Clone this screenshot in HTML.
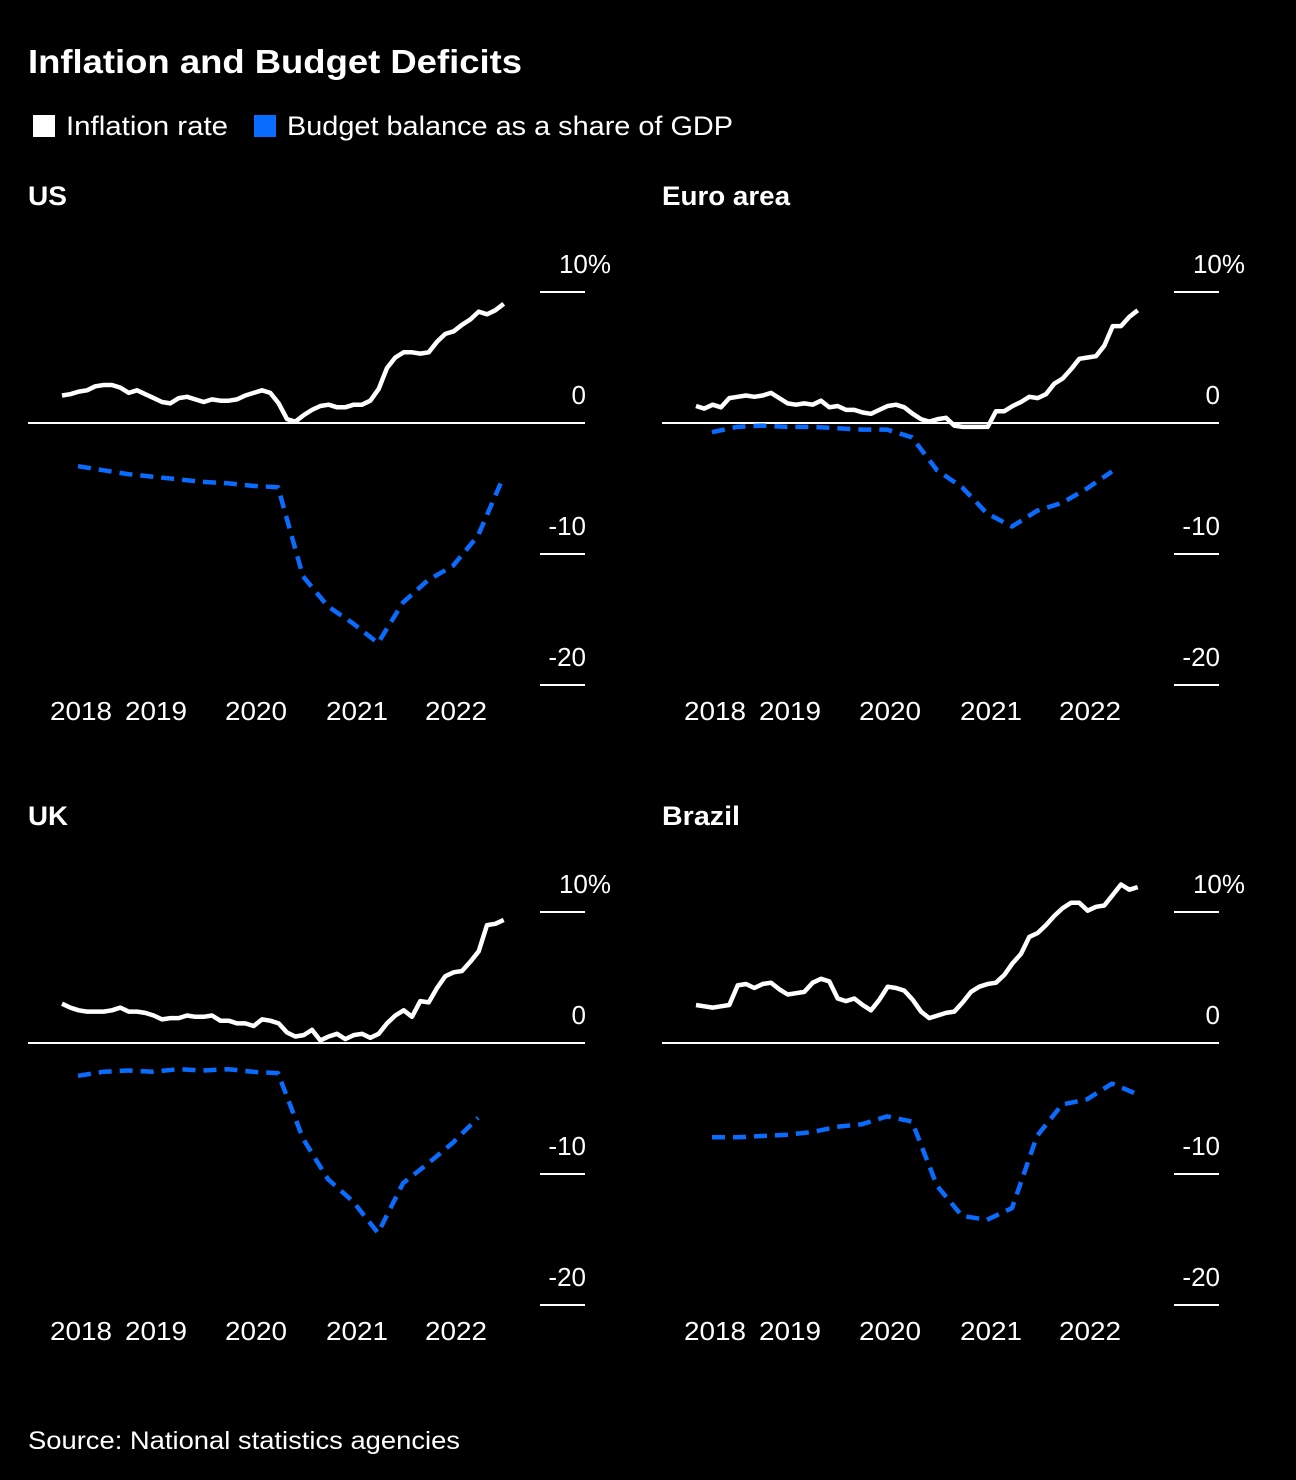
<!DOCTYPE html>
<html><head><meta charset="utf-8">
<style>
html,body{margin:0;padding:0;background:#000;}
body{width:1296px;height:1480px;overflow:hidden;font-family:"Liberation Sans",Arial,sans-serif;color:#fff;}
</style></head>
<body>
<svg id="chart" width="1296" height="1480" xmlns="http://www.w3.org/2000/svg" style="position:absolute;left:0;top:0">
<text x="28" y="73" fill="#fff" font-size="33" font-weight="bold" font-family="Liberation Sans, sans-serif" textLength="494" lengthAdjust="spacingAndGlyphs">Inflation and Budget Deficits</text>
<g>
<rect x="33" y="115" width="22" height="22" fill="#fff"/>
<text x="66" y="135" fill="#fff" font-size="27" font-family="Liberation Sans, sans-serif" textLength="162" lengthAdjust="spacingAndGlyphs">Inflation rate</text>
<rect x="254" y="115" width="22" height="22" fill="#0a6cff"/>
<text x="287" y="135" fill="#fff" font-size="27" font-family="Liberation Sans, sans-serif" textLength="446" lengthAdjust="spacingAndGlyphs">Budget balance as a share of GDP</text>
</g>
<text x="28" y="1449" fill="#fff" font-size="25" font-family="Liberation Sans, sans-serif" textLength="432" lengthAdjust="spacingAndGlyphs">Source: National statistics agencies</text>
</svg>
<script>
const yearTicks = [2018.19, 2018.94, 2019.94, 2020.95, 2021.94];
const yearLabels = ["2018","2019","2020","2021","2022"];
const valueTicks = [10, 0, -10, -20];
const valueLabels = ["10%","0","-10","-20"];
const panelNames = ["US","Euro area","UK","Brazil"];
const panelTitleWidths = [39, 128, 40, 78];

const usInflation = [2.1,2.2,2.4,2.5,2.8,2.9,2.9,2.7,2.3,2.5,2.2,1.9, 1.6,1.5,1.9,2.0,1.8,1.6,1.8,1.7,1.7,1.8,2.1,2.3, 2.5,2.3,1.5,0.3,0.1,0.6,1.0,1.3,1.4,1.2,1.2,1.4, 1.4,1.7,2.6,4.2,5.0,5.4,5.4,5.3,5.4,6.2,6.8,7.0, 7.5,7.9,8.5,8.3,8.6,9.1];
const usBudget = [-3.3,-3.6,-3.9,-4.1,-4.3,-4.5,-4.6,-4.8,-4.9,-11.7,-14.0,-15.3,-16.8,-13.7,-12.0,-10.9,-8.6,-4.2];
const euInflation = [1.3,1.1,1.4,1.2,1.9,2.0,2.1,2.0,2.1,2.3,1.9,1.5, 1.4,1.5,1.4,1.7,1.2,1.3,1.0,1.0,0.8,0.7,1.0,1.3, 1.4,1.2,0.7,0.3,0.1,0.3,0.4,-0.2,-0.3,-0.3,-0.3,-0.3, 0.9,0.9,1.3,1.6,2.0,1.9,2.2,3.0,3.4,4.1,4.9,5.0, 5.1,5.9,7.4,7.4,8.1,8.6];
const euBudget = [-0.7,-0.3,-0.2,-0.3,-0.3,-0.4,-0.5,-0.5,-1.1,-3.6,-4.9,-6.9,-7.9,-6.7,-6.1,-5.0,-3.7];
const ukInflation = [3.0,2.7,2.5,2.4,2.4,2.4,2.5,2.7,2.4,2.4,2.3,2.1, 1.8,1.9,1.9,2.1,2.0,2.0,2.1,1.7,1.7,1.5,1.5,1.3, 1.8,1.7,1.5,0.8,0.5,0.6,1.0,0.2,0.5,0.7,0.3,0.6, 0.7,0.4,0.7,1.5,2.1,2.5,2.0,3.2,3.1,4.2,5.1,5.4, 5.5,6.2,7.0,9.0,9.1,9.4];
const ukBudget = [-2.5,-2.2,-2.1,-2.2,-2.0,-2.1,-2.0,-2.2,-2.3,-7.3,-10.4,-12.1,-14.5,-10.7,-9.2,-7.6,-5.7];
const brInflation = [2.9,2.8,2.7,2.8,2.9,4.4,4.5,4.2,4.5,4.6,4.1,3.7, 3.8,3.9,4.6,4.9,4.7,3.4,3.2,3.4,2.9,2.5,3.3,4.3, 4.2,4.0,3.3,2.4,1.9,2.1,2.3,2.4,3.1,3.9,4.3,4.5, 4.6,5.2,6.1,6.8,8.1,8.4,9.0,9.7,10.3,10.7,10.7,10.1, 10.4,10.5,11.3,12.1,11.7,11.9];
const brBudget = [-7.2,-7.2,-7.1,-7.0,-6.8,-6.4,-6.2,-5.6,-6.0,-10.9,-13.2,-13.5,-12.6,-7.1,-4.7,-4.3,-3.1,-3.9];

const NS = "http://www.w3.org/2000/svg";
const svg = document.getElementById("chart");
function mk(tag, attrs, parent){const e=document.createElementNS(NS,tag);for(const k in attrs)e.setAttribute(k,attrs[k]);parent.appendChild(e);return e;}

function drawPanel(idx, ox, oy, infl, budget){
  const slug = panelNames[idx].toLowerCase().replace(/\s+/g,'-');
  const g = mk("g",{},svg);
  
  
  const xs = t => ox + 62 + (t-2018)*100;
  const ys = v => oy + 423 - v*13.1;
  const title = mk("text",{x:ox+28,y:oy+205,fill:"#fff","font-size":27,"font-weight":"bold","font-family":"Liberation Sans, sans-serif",textLength:panelTitleWidths[idx],lengthAdjust:"spacingAndGlyphs"},g);
  title.textContent = panelNames[idx];
  
  
  valueTicks.forEach((v,i)=>{
    const y = ys(v);
    const ln = mk("line",{x1:(v===0?ox+28:ox+540),x2:ox+585,y1:y,y2:y,stroke:"#fff","stroke-width":2},g);
    
    
    const tx = mk("text",{x:(i===0?ox+611:ox+586),y:y-19,fill:"#fff","font-size":26,"text-anchor":"end","font-family":"Liberation Sans, sans-serif"},g);
    tx.textContent = valueLabels[i];
    
    
  });
  yearTicks.forEach((t,i)=>{
    const tx = mk("text",{x:xs(t)-31,y:oy+720,fill:"#fff","font-size":26,"font-family":"Liberation Sans, sans-serif",textLength:62,lengthAdjust:"spacingAndGlyphs"},g);
    tx.textContent = yearLabels[i];
    
    
  });
  const bp = budget.map((v,i)=>xs(2018.16+i*0.25).toFixed(1)+","+ys(v).toFixed(1)).join(" ");
  const bl = mk("polyline",{points:bp,fill:"none",stroke:"#0a6cff","stroke-width":4.5,"stroke-dasharray":"13 8","stroke-linejoin":"round"},g);
  
  
  const ip = infl.map((v,i)=>xs(2018+i/12).toFixed(1)+","+ys(v).toFixed(1)).join(" ");
  const il = mk("polyline",{points:ip,fill:"none",stroke:"#fff","stroke-width":4.5,"stroke-linejoin":"round"},g);
  
  
}
drawPanel(0, 0, 0, usInflation, usBudget);
drawPanel(1, 634, 0, euInflation, euBudget);
drawPanel(2, 0, 620, ukInflation, ukBudget);
drawPanel(3, 634, 620, brInflation, brBudget);
</script>
</body></html>
